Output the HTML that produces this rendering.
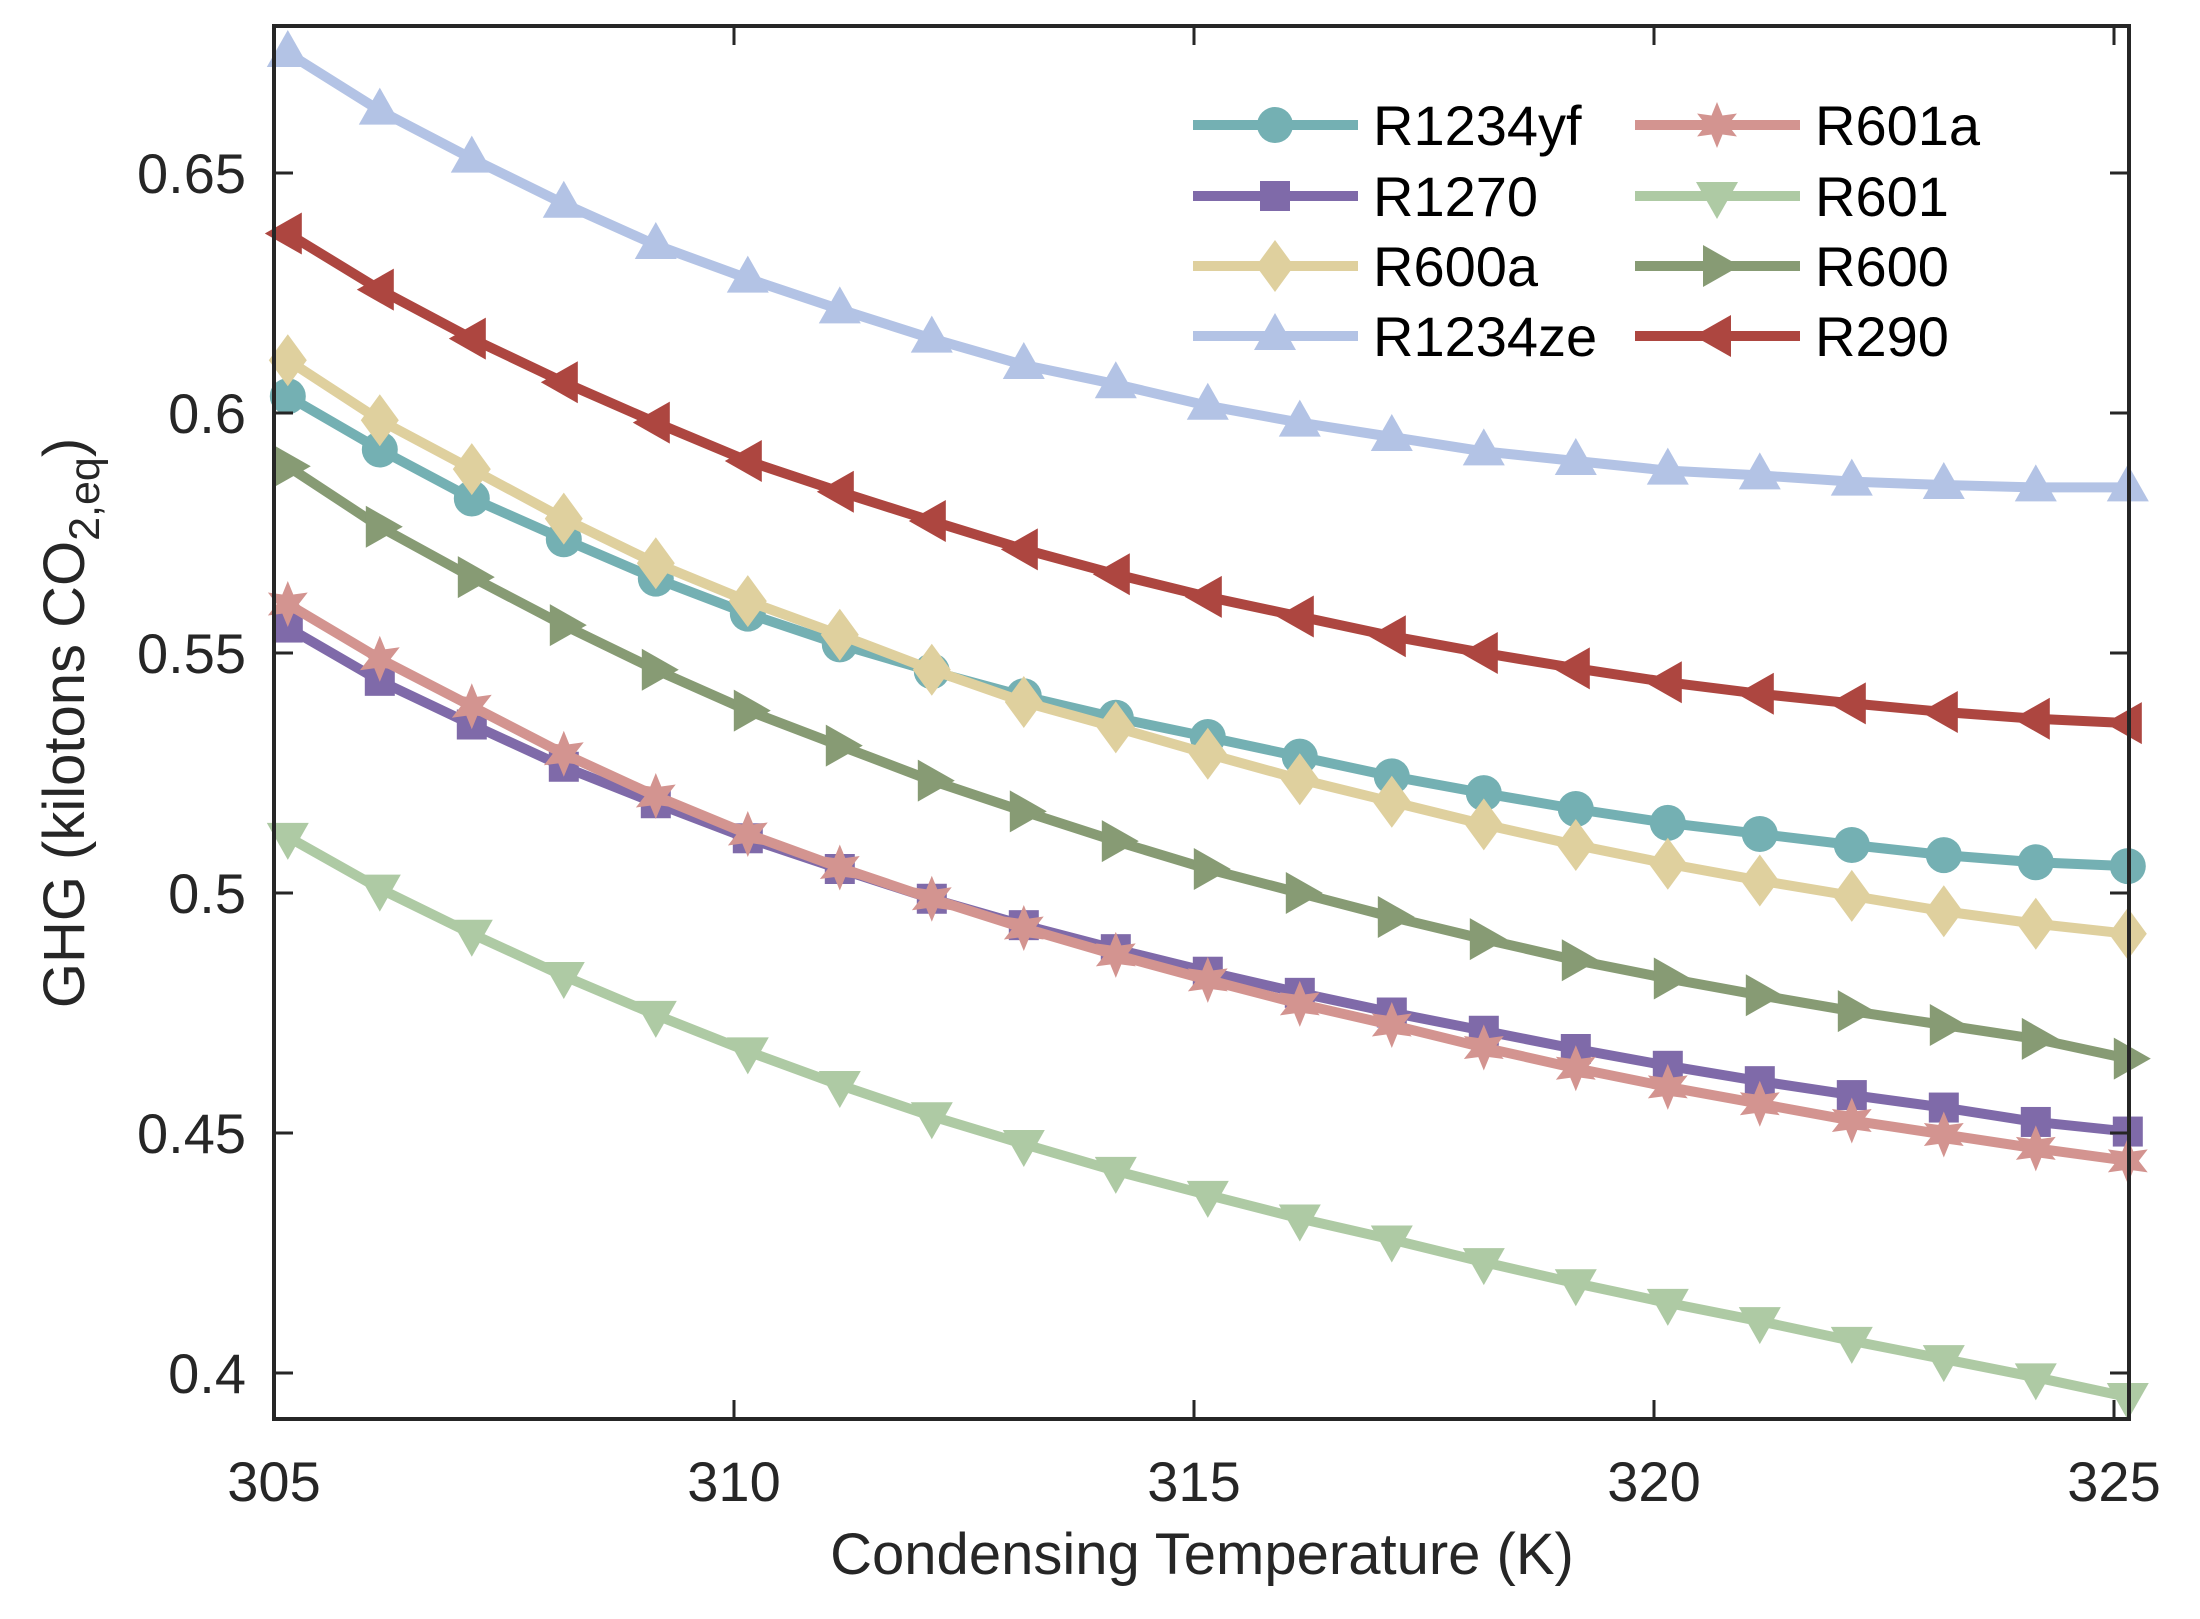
<!DOCTYPE html>
<html><head><meta charset="utf-8"><style>
html,body{margin:0;padding:0;background:#fff;}
svg{display:block;font-family:"Liberation Sans",Arial,sans-serif;}
</style></head><body>
<svg id="chart" width="2200" height="1619" viewBox="0 0 2200 1619" xmlns="http://www.w3.org/2000/svg">
<rect width="2200" height="1619" fill="#fff"/>
<g id="plot"></g>
<g id="axes"></g>
<g id="legend"></g>
</svg>
<script>
const temps = [305.15,306.15,307.15,308.15,309.15,310.15,311.15,312.15,313.15,314.15,315.15,316.15,317.15,318.15,319.15,320.15,321.15,322.15,323.15,324.15,325.15];
const r1234yf = [0.6035,0.5924,0.5822,0.5737,0.5655,0.5582,0.5518,0.5462,0.541,0.5365,0.5325,0.5284,0.5243,0.5208,0.5175,0.5146,0.5123,0.510,0.5079,0.5064,0.5056];
const r1270 = [0.5553,0.5442,0.5351,0.5263,0.5187,0.5114,0.505,0.4988,0.4933,0.4883,0.4836,0.4792,0.4751,0.4713,0.4675,0.464,0.4608,0.4579,0.4553,0.4523,0.4503];
const r600a = [0.611,0.5985,0.5883,0.578,0.5687,0.5608,0.5538,0.5465,0.5398,0.5345,0.529,0.5237,0.519,0.5143,0.510,0.5061,0.5026,0.4994,0.4962,0.4936,0.4915];
const r1234ze = [0.675,0.663,0.653,0.6436,0.635,0.628,0.6216,0.6155,0.610,0.606,0.6015,0.598,0.595,0.592,0.590,0.588,0.587,0.5857,0.585,0.5845,0.5845];
const r601a = [0.5602,0.5488,0.5389,0.529,0.5202,0.5123,0.5053,0.4988,0.4927,0.4871,0.4819,0.4769,0.4725,0.4678,0.4635,0.4596,0.4561,0.4526,0.4497,0.4468,0.4442];
const r601 = [0.5117,0.5009,0.4915,0.4827,0.4746,0.467,0.46,0.4535,0.4477,0.4421,0.4371,0.4322,0.4278,0.4231,0.4187,0.4146,0.4108,0.4067,0.4029,0.3991,0.395];
const r600 = [0.5889,0.5763,0.5658,0.5558,0.5465,0.538,0.5307,0.5234,0.517,0.5108,0.505,0.500,0.495,0.4904,0.486,0.4822,0.4787,0.4754,0.4725,0.4696,0.4655];
const r290 = [0.6374,0.6257,0.6155,0.6064,0.598,0.590,0.5836,0.5775,0.5716,0.5664,0.5617,0.5576,0.5535,0.550,0.5468,0.5439,0.5415,0.5395,0.5377,0.5363,0.5354];
const seriesNames = ["R1234yf","R1270","R600a","R1234ze","R601a","R601","R600","R290"];
const xTicks = [305,310,315,320,325];
const xTickLabels = ["305","310","315","320","325"];
const yTicks = [0.4,0.45,0.5,0.55,0.6,0.65];
const yTickLabels = ["0.4","0.45","0.5","0.55","0.6","0.65"];

const NS="http://www.w3.org/2000/svg";
const L=274,R=2129,T=26,B=1419;
function xs(v){return 274+(v-305)*92;}
function ys(v){return 1373-(v-0.4)*4800;}
function mk(tag,attrs,parent){const e=document.createElementNS(NS,tag);for(const k in attrs)e.setAttribute(k,attrs[k]);parent.appendChild(e);return e;}

const seriesData=[r1234yf,r1270,r600a,r1234ze,r601a,r601,r600,r290];
const colors=["#74b0b3","#7f6aa9","#dfd09e","#b3c3e5","#d39490","#aecaa4","#879b74","#ad4640"];
const markers=["circle","square","diamond","up","star","down","right","left"];

function marker(type,x,y,c,parent){
  let e;
  if(type==="circle"){e=mk("ellipse",{cx:x,cy:y,rx:18,ry:18,fill:c},parent);}
  else if(type==="square"){e=mk("rect",{x:x-15,y:y-15,width:30,height:30,fill:c},parent);}
  else {
    let p;
    if(type==="diamond")p=[[0,-26],[19,0],[0,26],[-19,0]];
    else if(type==="up")p=[[0,-23],[21,14],[-21,14]];
    else if(type==="down")p=[[0,23],[21,-14],[-21,-14]];
    else if(type==="right")p=[[23,0],[-14,21],[-14,-21]];
    else if(type==="left")p=[[-23,0],[14,21],[14,-21]];
    else if(type==="star"){p=[];for(let i=0;i<12;i++){const r=i%2?11:23;const a=-Math.PI/2+i*Math.PI/6;p.push([r*Math.cos(a),r*Math.sin(a)]);}}
    e=mk("polygon",{points:p.map(q=>(x+q[0])+","+(y+q[1])).join(" "),fill:c},parent);
  }
  return e;
}

const plot=document.getElementById("plot");
seriesData.forEach((vals,si)=>{
  const g=mk("g",{},plot);
  
  
  const pts=vals.map((v,i)=>xs(temps[i])+","+ys(v)).join(" ");
  const pl=mk("polyline",{points:pts,fill:"none",stroke:colors[si],"stroke-width":10,"stroke-linejoin":"round"},g);
  
  
  vals.forEach((v,i)=>{
    const m=marker(markers[si],xs(temps[i]),ys(v),colors[si],g);
    
    
  });
});

const axes=document.getElementById("axes");
const box=mk("rect",{x:L,y:T,width:R-L,height:B-T,fill:"none",stroke:"#262626","stroke-width":4},axes);


xTicks.forEach((t,i)=>{
  const x=xs(t);
  mk("line",{x1:x,y1:B,x2:x,y2:B-19,stroke:"#262626","stroke-width":3},axes);
  mk("line",{x1:x,y1:T,x2:x,y2:T+19,stroke:"#262626","stroke-width":3},axes);
  const tx=mk("text",{x:x,y:1501,"text-anchor":"middle","font-size":56,fill:"#262626"},axes);
  tx.textContent=xTickLabels[i];
  
  
});
yTicks.forEach((t,i)=>{
  const y=ys(t);
  mk("line",{x1:L,y1:y,x2:L+19,y2:y,stroke:"#262626","stroke-width":3},axes);
  mk("line",{x1:R,y1:y,x2:R-19,y2:y,stroke:"#262626","stroke-width":3},axes);
  const tx=mk("text",{x:246,y:y+20,"text-anchor":"end","font-size":56,fill:"#262626"},axes);
  tx.textContent=yTickLabels[i];
  
  
});
const xl=mk("text",{x:1202,y:1574,"text-anchor":"middle","font-size":58,fill:"#262626"},axes);
xl.textContent="Condensing Temperature (K)";


const yl=mk("text",{x:0,y:0,"text-anchor":"middle","font-size":58,fill:"#262626",transform:"translate(84,723) rotate(-90)"},axes);
yl.innerHTML='GHG (kilotons CO<tspan dy="15" font-size="43">2,eq</tspan><tspan dy="-15">)</tspan>';



const legend=document.getElementById("legend");
const rowsY=[125,196,266,336];
seriesData.forEach((v,si)=>{
  const col=si<4?0:1,row=si%4;
  const x0=col?1635:1193,y=rowsY[row];
  const g=mk("g",{},legend);
  
  
  mk("line",{x1:x0,y1:y,x2:x0+165,y2:y,stroke:colors[si],"stroke-width":10},g);
  marker(markers[si],x0+82,y,colors[si],g);
  const t=mk("text",{x:x0+180,y:y+20,"font-size":56,fill:"#000"},g);
  t.textContent=seriesNames[si];
});
</script>
</body></html>
